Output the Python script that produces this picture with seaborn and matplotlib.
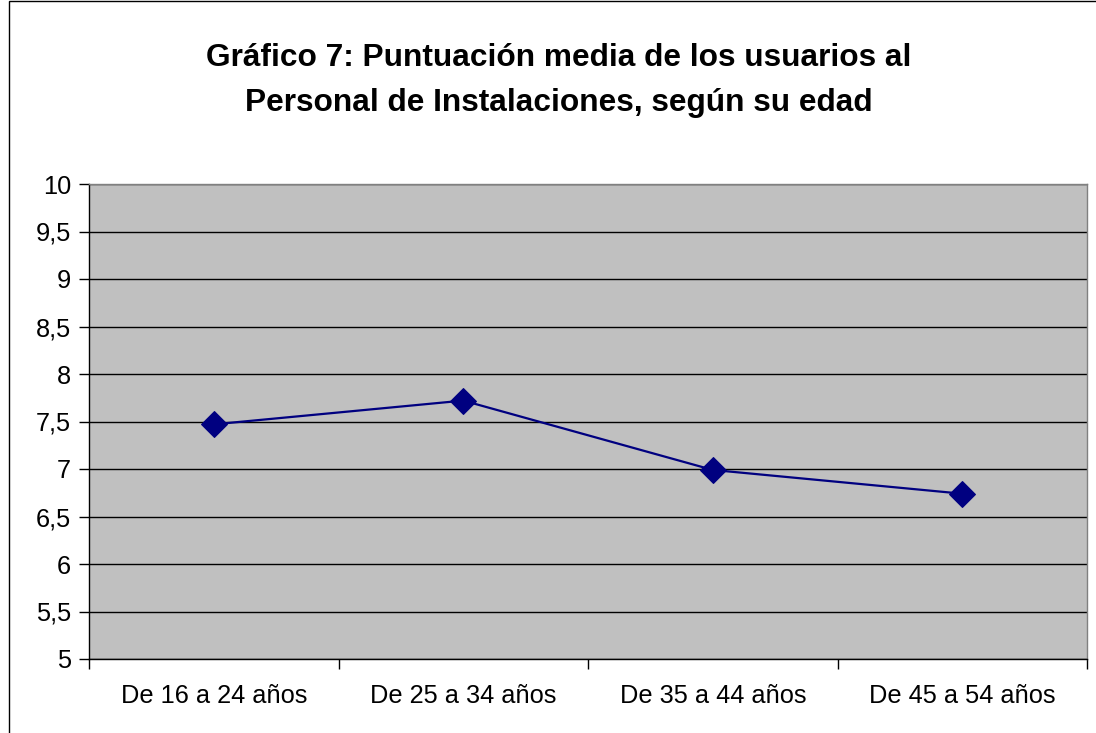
import matplotlib
matplotlib.use("Agg")
import matplotlib.pyplot as plt
import seaborn as sns
from matplotlib.patches import Rectangle

# Datos del gráfico
categorias = ["De 16 a 24 años", "De 25 a 34 años", "De 35 a 44 años", "De 45 a 54 años"]
puntuacion = [7.47, 7.72, 6.99, 6.74]
ticks_y = [5, 5.5, 6, 6.5, 7, 7.5, 8, 8.5, 9, 9.5, 10]
etiquetas_y = ["5", "5,5", "6", "6,5", "7", "7,5", "8", "8,5", "9", "9,5", "10"]

sns.set_style("white", {"xtick.bottom": True, "ytick.left": True,
                        "text.color": "black", "xtick.color": "black", "ytick.color": "black"})
plt.rcParams['font.family'] = ['Liberation Sans', 'DejaVu Sans']

fig = plt.figure(figsize=(10.96, 7.33), dpi=100)
ax = fig.add_axes([89 / 1096, 74 / 733, 998 / 1096, 475 / 733])
ax.set_facecolor("#C0C0C0")

# Línea con marcadores de rombo
sns.lineplot(x=list(range(len(categorias))), y=puntuacion, ax=ax, color="#000080",
             linewidth=1.6, marker="D", markersize=13, markeredgecolor="#000080",
             zorder=3)

ax.set_xlim(-0.5, len(categorias) - 0.5)
ax.set_ylim(5, 10)
ax.set_xticks(range(len(categorias)))
ax.set_xticklabels(categorias, fontsize=18.3)
ax.set_xticks([i - 0.5 for i in range(len(categorias) + 1)], minor=True)
ax.tick_params(axis="x", which="major", length=0, pad=18)
ax.tick_params(axis="x", which="minor", bottom=True, length=7, direction="out", color="black", width=1)
ax.set_yticks(ticks_y)
ax.set_yticklabels(etiquetas_y, fontsize=18.3)
ax.tick_params(axis="y", left=True, length=7, direction="out", color="black", width=1, pad=6)

ax.yaxis.grid(True, color="black", linewidth=1)
ax.set_axisbelow(True)
for lado in ["top", "right"]:
    ax.spines[lado].set_color("#808080")
for lado in ["left", "bottom"]:
    ax.spines[lado].set_color("black")
for s in ax.spines.values():
    s.set_linewidth(1)

ax.set_xlabel("")
ax.set_ylabel("")

fig.text(0.5095, 0.890, "Gráfico 7: Puntuación media de los usuarios al\nPersonal de Instalaciones, según su edad",
         ha="center", va="center", fontsize=22.8, fontweight="bold", linespacing=1.62, color="black")

# Borde exterior del gráfico
fig.patches.append(Rectangle((9 / 1096, -0.01), 1.2, 1.0085, transform=fig.transFigure,
                             fill=False, edgecolor="black", linewidth=1))

fig.savefig("out.png", dpi=100)
